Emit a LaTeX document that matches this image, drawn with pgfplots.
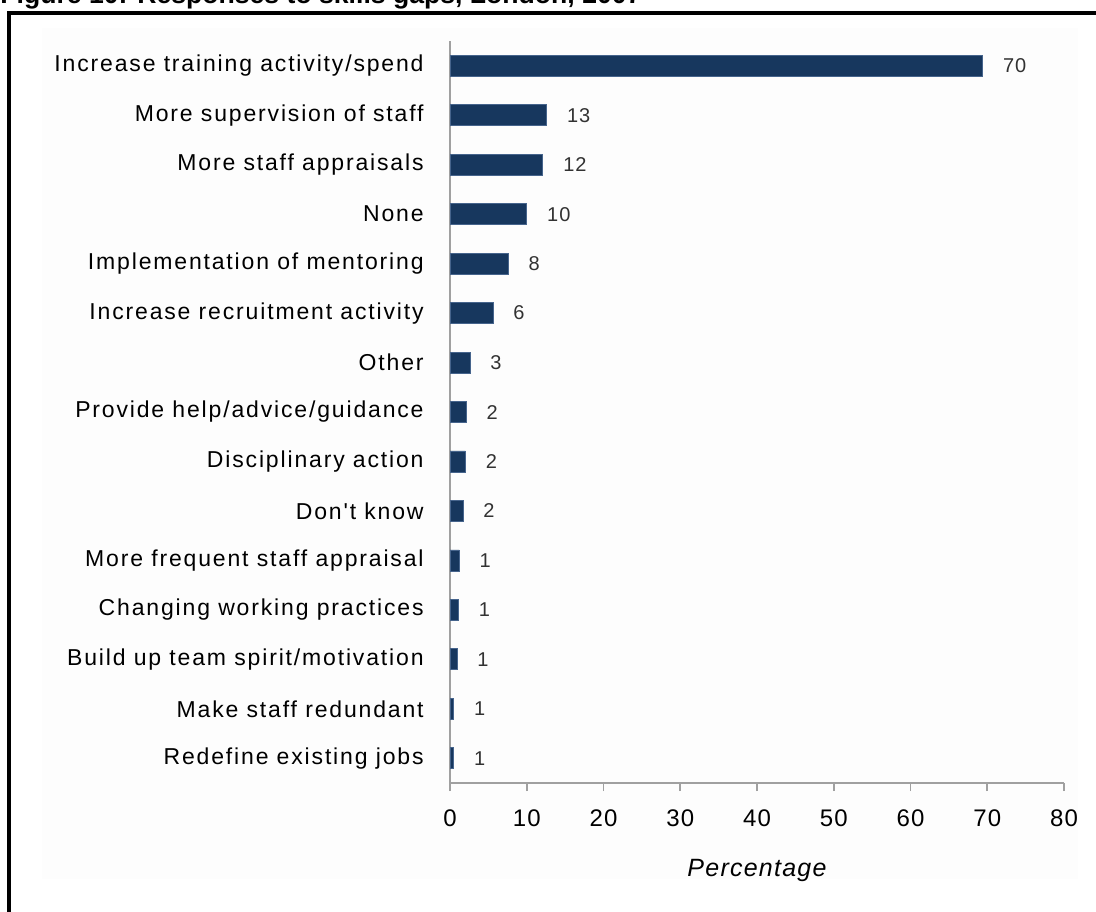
\documentclass[border=0pt]{standalone}
\usepackage{pgfplots}
\pgfplotsset{compat=1.18}
\usepackage{pgfplotstable}
\usepackage{fontspec}
\setmainfont{Liberation Sans}
\newfontfamily\labfont[LetterSpace=8]{Liberation Sans}
\newfontfamily\numfont[LetterSpace=5]{Liberation Sans}
\definecolor{barfill}{RGB}{23,55,94}
\definecolor{baredge}{RGB}{70,100,140}
\definecolor{axgray}{RGB}{160,160,160}
\definecolor{numgray}{RGB}{50,50,50}
\pgfplotstableread[col sep=comma]{
idx,val,lab
0,69.4,70
1,12.6,13
2,12.1,12
3,10.0,10
4,7.6,8
5,5.6,6
6,2.6,3
7,2.1,2
8,2.0,2
9,1.7,2
10,1.2,1
11,1.1,1
12,0.9,1
13,0.5,1
14,0.5,1
}\datatable
\begin{document}
\begin{tikzpicture}
\path[use as bounding box] (0,0) rectangle (548pt,-455.5pt);
\clip (0,0) rectangle (548pt,-455.5pt);
\fill[black!0.6] (21pt,-14pt) rectangle (539pt,-439.5pt);
\draw[line width=2pt] (4.5pt,-6.5pt) rectangle (600pt,-520pt);
\node[anchor=base west, inner sep=0pt, font=\bfseries\fontsize{13.3}{15}\selectfont] at (0pt,-1.5pt) {Figure 10: Responses to skills gaps, London, 2007};
\begin{axis}[
  at={(225pt,-391.5pt)}, anchor=south west,
  scale only axis, width=307pt, height=371pt,
  xbar, bar width=10.5pt,
  xmin=0, xmax=80, ymin=-0.5, ymax=14.5,
  y dir=reverse,
  axis lines*=left,
  axis line style={axgray, line width=0.8pt},
  xtick={0,10,...,80},
  ytick={0,...,14},
  yticklabels={Increase training activity/spend, More supervision of staff, More staff appraisals, None, Implementation of mentoring, Increase recruitment activity, Other, Provide help/advice/guidance, Disciplinary action, Don't know, More frequent staff appraisal, Changing working practices, Build up team spirit/motivation, Make staff redundant, Redefine existing jobs},
  minor ytick={-0.5,0.5,...,14.5},
  tick align=outside,
  major tick length=4pt,
  minor tick length=4pt,
  every tick/.style={axgray, line width=0.8pt},
  ytick style={draw=none},
  minor y tick style={axgray, line width=0.8pt},
  /pgf/number format/assume math mode=true,
  yticklabel style={font=\labfont\fontsize{11.5}{13}\selectfont, anchor=east, inner sep=0pt, xshift=-9pt},
  xticklabel style={font=\numfont\fontsize{12}{14}\selectfont, anchor=north, inner sep=0pt, yshift=-9pt},
  xlabel={Percentage},
  xlabel style={font=\itshape\numfont\fontsize{12.5}{14}\selectfont, at={(axis description cs:0.5,0)}, anchor=center, yshift=-43.5pt},
  point meta=explicit symbolic,
  nodes near coords,
  nodes near coords style={font=\numfont\fontsize{10}{12}\selectfont, text=numgray, anchor=west, inner sep=0pt, xshift=10pt},
  clip=false,
]
\addplot[fill=barfill, draw=baredge, line width=0.4pt] table[x=val, y=idx, meta=lab] {\datatable};
\end{axis}
\end{tikzpicture}
\end{document}
